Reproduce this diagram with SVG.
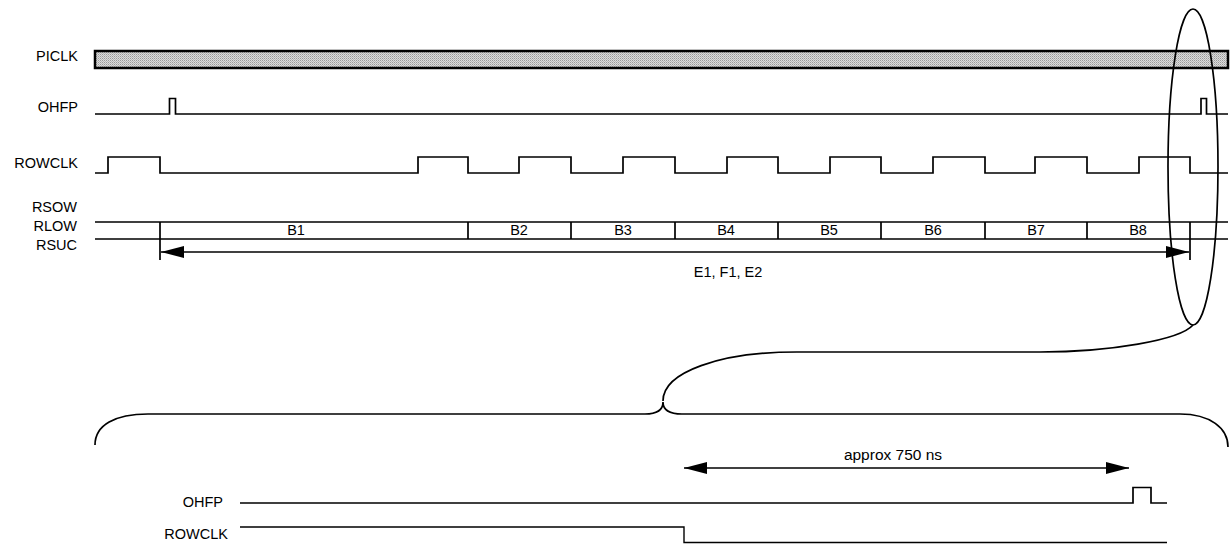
<svg xmlns="http://www.w3.org/2000/svg" width="1230" height="548" viewBox="0 0 1230 548">
<style>
.lbl{font-family:"Liberation Sans",Arial,sans-serif;font-size:14.5px;fill:#000}
.lr{text-anchor:end}
.c{text-anchor:middle}
.w{fill:none;stroke:#000;stroke-width:1.7}
.thin{fill:none;stroke:#000;stroke-width:1.4}
</style>
<defs>
<pattern id="dots" width="2" height="2" patternUnits="userSpaceOnUse">
<rect width="2" height="2" fill="#dcdcdc"/>
<rect width="1" height="1" fill="#9a9a9a"/>
<rect x="1" y="1" width="1" height="1" fill="#b8b8b8"/>
</pattern>
<marker id="ah" markerUnits="userSpaceOnUse" markerWidth="24" markerHeight="14" refX="23" refY="7" orient="auto-start-reverse">
<path d="M0,1 L23,7 L0,13 Z" fill="#000"/>
</marker>
</defs>
<rect width="1230" height="548" fill="#fff"/>
<g id="piclk">
<text class="lbl lr" x="78" y="61">PICLK</text>
<rect x="95" y="51" width="1133" height="17" fill="url(#dots)" stroke="#000" stroke-width="2.5"/>
</g>
<g id="ohfp">
<text class="lbl lr" x="78" y="112">OHFP</text>
<path class="w" d="M95,114 H169.5 V98.5 H175.5 V114 H1201 V98.5 H1206.5 V114 H1228"/>
</g>
<g id="rowclk">
<text class="lbl lr" x="78" y="168">ROWCLK</text>
<path class="w" d="M95,173 H108 V157 H160 V173 H418 V157 H468 V173 H519 V157 H571 V173 H623 V157 H675 V173 H727 V157 H778 V173 H830 V157 H881 V173 H933 V157 H985 V173 H1035 V157 H1087 V173 H1139 V157 H1190 V173 H1228"/>
</g>
<g id="bus">
<text class="lbl lr" x="77" y="212">RSOW</text>
<text class="lbl lr" x="77" y="231">RLOW</text>
<text class="lbl lr" x="77" y="250">RSUC</text>
<path class="w" d="M95,222 H1228 M95,239 H1228 M468,222 V239 M571,222 V239 M675,222 V239 M778,222 V239 M881,222 V239 M985,222 V239 M1087,222 V239"/>
<text class="lbl c" x="296" y="235">B1</text>
<text class="lbl c" x="519" y="235">B2</text>
<text class="lbl c" x="623" y="235">B3</text>
<text class="lbl c" x="726" y="235">B4</text>
<text class="lbl c" x="829" y="235">B5</text>
<text class="lbl c" x="933" y="235">B6</text>
<text class="lbl c" x="1036" y="235">B7</text>
<text class="lbl c" x="1138" y="235">B8</text>
</g>
<g id="span">
<path class="w" d="M160,222 V260 M1190,222 V260"/>
<line class="w" x1="161" y1="252" x2="1189" y2="252" marker-start="url(#ah)" marker-end="url(#ah)"/>
<text class="lbl c" x="728" y="277">E1, F1, E2</text>
</g>
<g id="magnifier">
<ellipse class="w" cx="1193" cy="167" rx="25" ry="158"/>
<path class="w" d="M1193,325 C1180,340 1110,352 1040,352 L797,352 C720,352 663,372 663,401"/>
<path class="w" d="M95,445 C95,425 115,414 148,414 L645,414 C656,414 663,410 663,402 C663,410 670,414 682,414 L1180,414 C1210,414 1228,428 1228,447"/>
</g>
<g id="duration">
<line class="w" x1="684" y1="468" x2="1129" y2="468" marker-start="url(#ah)" marker-end="url(#ah)"/>
<text class="lbl c" x="893" y="460" style="font-size:15.5px">approx 750 ns</text>
</g>
<g id="ohfp-zoom">
<text class="lbl lr" x="223" y="507">OHFP</text>
<path class="w" d="M240,503 H1133 V487.5 H1151 V503 H1167"/>
</g>
<g id="rowclk-zoom">
<text class="lbl lr" x="228" y="539">ROWCLK</text>
<path class="thin" d="M240,527 H684 V542.5 H1167"/>
</g>
</svg>
